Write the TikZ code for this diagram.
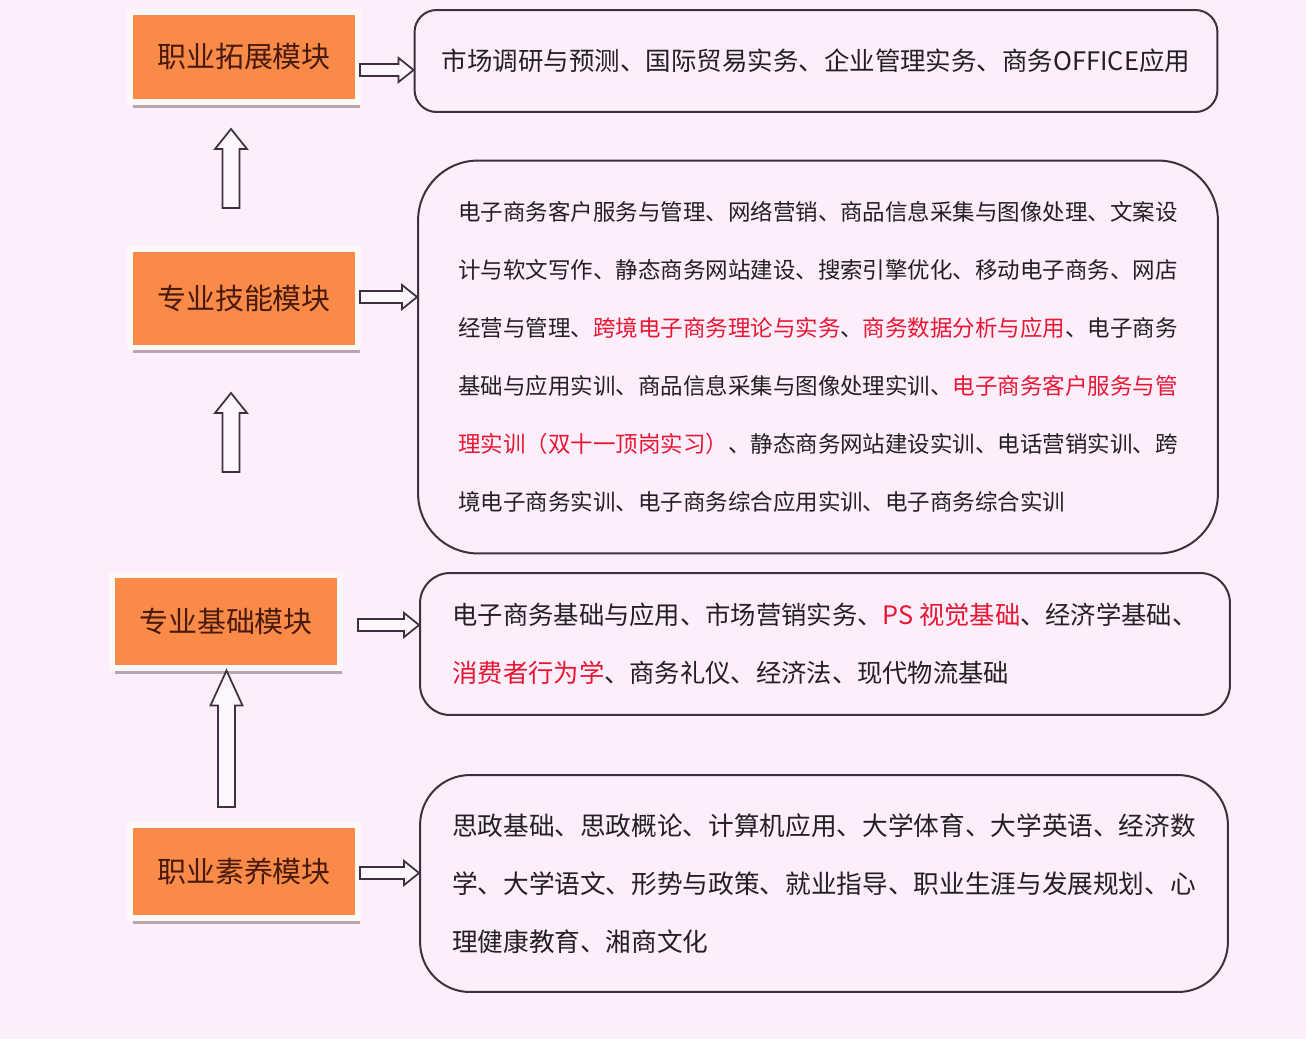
\documentclass[tikz,border=0pt]{standalone}
\usepackage{fontspec}
\setmainfont{Noto Sans CJK SC}
\usetikzlibrary{calc,shadows}

\definecolor{bgpink}{RGB}{252,238,251}
\definecolor{modorange}{RGB}{250,138,72}
\definecolor{modframe}{RGB}{253,247,247}
\definecolor{shadowgray}{RGB}{185,165,178}
\definecolor{lineclr}{RGB}{62,48,64}
\definecolor{txtclr}{RGB}{38,30,36}
\definecolor{hlred}{RGB}{232,22,50}
\definecolor{labelclr}{RGB}{72,26,14}

\tikzset{
  module/.style={fill=modorange, draw=modframe, line width=0.12cm, minimum width=4.56cm,
    minimum height=1.86cm, inner sep=0, text=labelclr, font=\fontsize{16.5pt}{20pt}\selectfont,
    drop shadow={shadow xshift=0.05cm, shadow yshift=-0.12cm, fill=shadowgray, opacity=1}},
  descbox/.style={draw=lineclr, line width=0.04cm, inner sep=0, text=txtclr, align=left},
  hollow/.style={draw=lineclr, line width=0.035cm, fill=bgpink!50!white, line join=miter}
}

% hollow block arrows
\newcommand{\uparr}[3][0.4cm]{%
  \draw[hollow] let \p1=(#2), \p2=(#3) in
    (\x1-0.17cm,\y1) -- (\x1-0.17cm,\y2-#1) -- (\x1-0.32cm,\y2-#1) -- (\x1,\y2)
    -- (\x1+0.32cm,\y2-#1) -- (\x1+0.17cm,\y2-#1) -- (\x1+0.17cm,\y1) -- cycle;}
\newcommand{\rightarr}[2]{%
  \draw[hollow] let \p1=(#1), \p2=(#2) in
    (\x1,\y1-0.12cm) -- (\x2-0.3cm,\y1-0.12cm) -- (\x2-0.3cm,\y1-0.24cm) -- (\x2,\y1)
    -- (\x2-0.3cm,\y1+0.24cm) -- (\x2-0.3cm,\y1+0.12cm) -- (\x1,\y1+0.12cm) -- cycle;}

\begin{document}
\begin{tikzpicture}[x=0.02cm, y=-0.02cm]

    \useasboundingbox (0,0) rectangle (1306,1039);
    \fill[bgpink] (0,0) rectangle (1306,1039);

    % modules
    \node[module, minimum height=1.82cm] (zt) at (244,57) {职业拓展模块};
    \node[module, minimum height=1.98cm] (sk) at (244,298) {专业技能模块};
    \node[module] (jc) at (226,621) {专业基础模块};
    \node[module] (sy) at (244,871) {职业素养模块};

    % course lists
    \node[descbox, rounded corners=0.44cm, minimum width=16.06cm, minimum height=2.04cm,
      font=\fontsize{14.5pt}{20pt}\selectfont] (ztd) at (816,61)
      {市场调研与预测、国际贸易实务、企业管理实务、商务OFFICE应用};

    \node[descbox, rounded corners=1.2cm, minimum width=16cm, minimum height=7.86cm,
      font=\fontsize{12.8pt}{33pt}\selectfont] (skd) at (818,357)
      {电子商务客户服务与管理、网络营销、商品信息采集与图像处理、文案设\\
       计与软文写作、静态商务网站建设、搜索引擎优化、移动电子商务、网店\\
       经营与管理、\textcolor{hlred}{跨境电子商务理论与实务}、\textcolor{hlred}{商务数据分析与应用}、电子商务\\
       基础与应用实训、商品信息采集与图像处理实训、\textcolor{hlred}{电子商务客户服务与管}\\
       \textcolor{hlred}{理实训（双十一顶岗实习）}、静态商务网站建设实训、电话营销实训、跨\\
       境电子商务实训、电子商务综合应用实训、电子商务综合实训};

    \node[descbox, rounded corners=0.6cm, minimum width=16.2cm, minimum height=2.84cm,
      font=\fontsize{14.4pt}{33pt}\selectfont] (jcd) at (825,644)
      {电子商务基础与应用、市场营销实务、\textcolor{hlred}{PS 视觉基础}、经济学基础、\\
       \textcolor{hlred}{消费者行为学}、商务礼仪、经济法、现代物流基础};

    \node[descbox, rounded corners=1cm, minimum width=16.16cm, minimum height=4.34cm,
      font=\fontsize{14.6pt}{33pt}\selectfont] (syd) at (824,883.5)
      {思政基础、思政概论、计算机应用、大学体育、大学英语、经济数\\
       学、大学语文、形势与政策、就业指导、职业生涯与发展规划、心\\
       理健康教育、湘商文化};

    % arrows between modules
    \coordinate (u1b) at (231,208);
    \coordinate (u1t) at (231,129);
    \coordinate (u2b) at (231,472);
    \coordinate (u2t) at (231,393);
    \coordinate (u3b) at (226.5,807);
    \uparr{u1b}{u1t}
    \uparr{u2b}{u2t}
    \uparr[0.7cm]{u3b}{u3b |- jc.south}

    % arrows to course lists
    \coordinate (r1) at (360,70);
    \coordinate (r2) at (360,297);
    \coordinate (r3) at (358,625);
    \coordinate (r4) at (360,873);
    \rightarr{r1}{r1 -| ztd.west}
    \rightarr{r2}{r2 -| skd.west}
    \rightarr{r3}{r3 -| jcd.west}
    \rightarr{r4}{r4 -| syd.west}

\end{tikzpicture}
\end{document}
